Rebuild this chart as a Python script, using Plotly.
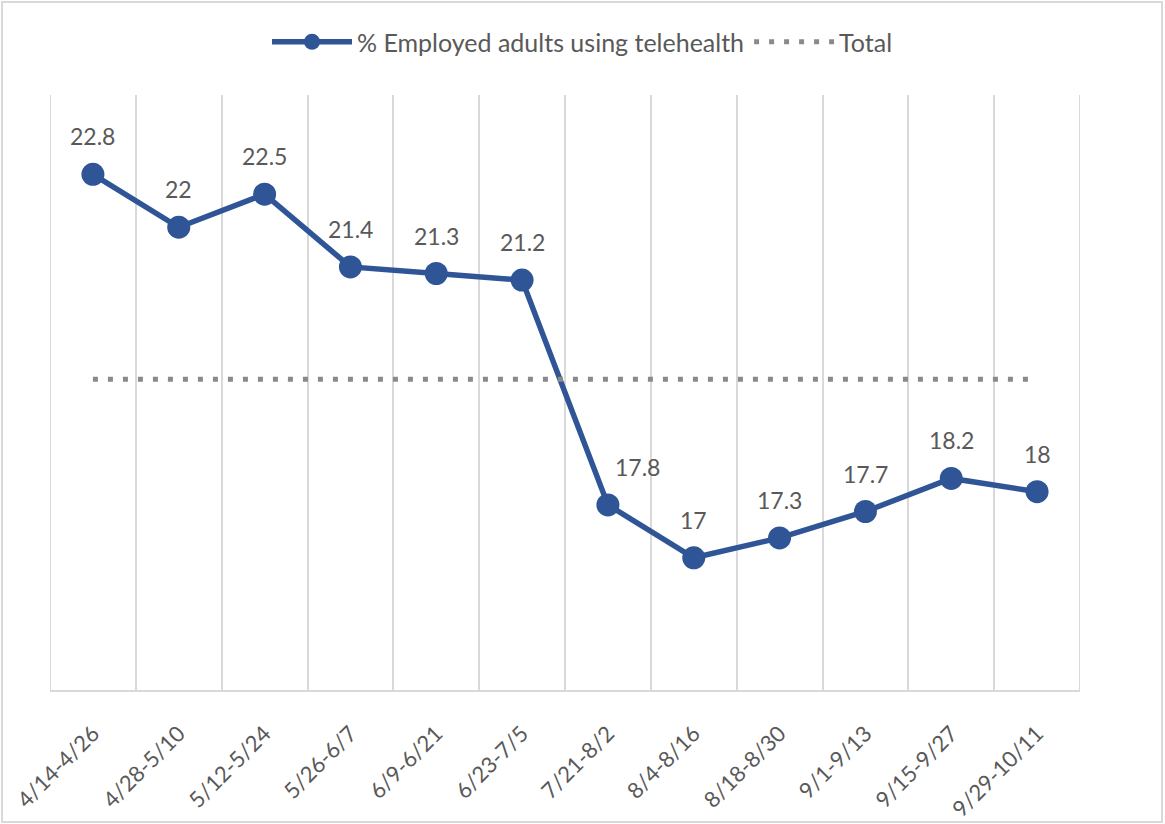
import plotly.graph_objects as go

# Survey periods and share of employed adults using telehealth (%)
periods = ["4/14-4/26", "4/28-5/10", "5/12-5/24", "5/26-6/7", "6/9-6/21", "6/23-7/5",
           "7/21-8/2", "8/4-8/16", "8/18-8/30", "9/1-9/13", "9/15-9/27", "9/29-10/11"]
employed_pct = [22.8, 22.0, 22.5, 21.4, 21.3, 21.2, 17.8, 17.0, 17.3, 17.7, 18.2, 18.0]
total_pct = [19.7] * len(periods)

BLUE = "#2F5597"
TEXT = "#595959"
GRID = "#D9D9D9"
FONT = "Lato, 'Open Sans', sans-serif"

# label nudged sideways so it clears the steep segment
label_xshift = {"7/21-8/2": 30}

fig = go.Figure()

fig.add_trace(go.Scatter(
    x=periods, y=employed_pct, name="% Employed adults using telehealth",
    mode="lines+markers",
    line=dict(color=BLUE, width=5.5),
    marker=dict(color=BLUE, size=23),
))

fig.add_trace(go.Scatter(
    x=periods, y=total_pct, name="Total",
    mode="lines",
    line=dict(color="#8A8A8A", width=5, dash="5px,10px"),
))

# value labels above each point
for p, v in zip(periods, employed_pct):
    fig.add_annotation(x=p, y=v, text=f"{v:g}", showarrow=False,
                       yshift=38, xshift=label_xshift.get(p, 0),
                       font=dict(size=23, color=TEXT, family=FONT))

# category boundary lines at both ends of the axis
for edge in (-0.5, len(periods) - 0.5):
    fig.add_shape(type="line", xref="x", yref="paper", x0=edge, x1=edge, y0=0, y1=1,
                  line=dict(color=GRID, width=2), layer="below")

# light frame around the whole chart
fig.add_shape(type="rect", xref="paper", yref="paper",
              x0=(2 - 50) / 1030, x1=(1162 - 50) / 1030,
              y0=(690 - 822) / 595, y1=(690 - 2) / 595,
              line=dict(color=GRID, width=2), layer="below")

fig.update_layout(
    width=1165, height=824,
    margin=dict(l=50, r=85, t=95, b=134, autoexpand=False),
    paper_bgcolor="white", plot_bgcolor="white",
    font=dict(family=FONT, color=TEXT),
    showlegend=True,
    legend=dict(orientation="h", x=0.517, xanchor="center",
                y=(690 - 42) / 595, yanchor="middle",
                font=dict(size=25, color=TEXT, family=FONT),
                itemwidth=80, traceorder="normal"),
    xaxis=dict(
        type="category", range=[-0.5, 11.5], automargin=False,
        tickson="boundaries", showgrid=True, gridcolor=GRID, gridwidth=2,
        showline=True, linecolor=GRID, linewidth=2,
        ticks="", tickangle=-45, tickfont=dict(size=22, color=TEXT, family=FONT),
        ticklabelstandoff=20, zeroline=False,
    ),
    yaxis=dict(range=[15, 24], showgrid=False, showticklabels=False,
               automargin=False, zeroline=False, showline=False, ticks=""),
)

fig.write_html("out.html")
